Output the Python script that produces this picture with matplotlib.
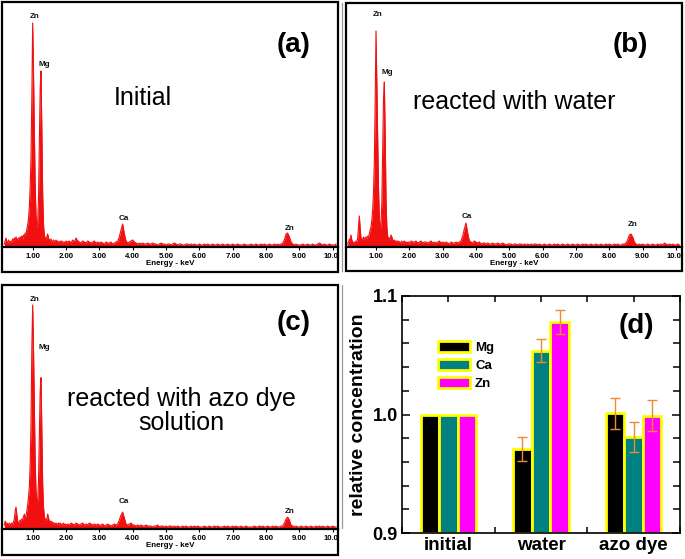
import numpy as np
import matplotlib
matplotlib.use('Agg')
import matplotlib.pyplot as plt
from matplotlib.patches import Rectangle
from matplotlib.lines import Line2D
from matplotlib.ticker import MultipleLocator, FormatStrFormatter
from matplotlib.transforms import Bbox, TransformedBbox

plt.rcParams['font.family'] = ['Liberation Sans', 'DejaVu Sans']

# ---------------- EDS spectra (counts) ----------------
e_low = np.round(np.arange(0.150, 2.0001, 0.025), 3)    # 75 channels
e_high = np.round(np.arange(2.05, 10.1001, 0.05), 3)    # 162 channels

counts_a_low = [3, 6, 9, 5, 4, 7, 5, 4, 6, 5, 8, 6, 9, 7, 10, 8, 7, 9, 8, 10,
                9, 11, 8, 12, 10, 14, 12, 18, 22, 28, 40, 60, 90, 150, 224, 175,
                115, 62, 32, 19, 24, 48, 105, 158, 176, 118, 52, 22, 12, 9, 8, 10,
                13, 9, 7, 6, 8, 6, 5, 7, 6, 5, 7, 5, 6, 5, 4, 6, 5, 6, 4, 5,
                5, 4, 6]
counts_a_high = [5, 6, 4, 7, 5, 9, 6, 5, 4, 6,
                 5, 4, 6, 5, 4, 5, 6, 4, 5, 4,
                 5, 4, 3, 5, 4, 4, 5, 3, 4, 5,
                 6, 10, 17, 23, 13, 6, 4, 5, 6, 7,
                 5, 4, 3, 4, 3, 4, 3, 3, 4, 3,
                 3, 4, 3, 3, 2, 3, 4, 3, 3, 2,
                 3, 3, 2, 3, 4, 3, 2, 3, 3, 2,
                 2, 3, 3, 2, 3, 2, 3, 2, 2, 3,
                 2, 2, 3, 2, 3, 2, 2, 3, 2, 2,
                 3, 2, 2, 3, 2, 2, 3, 2, 2, 3,
                 2, 2, 3, 2, 2, 2, 3, 2, 2, 2,
                 3, 2, 2, 3, 2, 2, 3, 2, 3, 2,
                 2, 3, 2, 2, 3, 2, 3, 2, 3, 4,
                 7, 13, 14, 10, 5, 3, 2, 3, 2, 2,
                 2, 3, 2, 2, 3, 2, 2, 3, 2, 2,
                 3, 4, 3, 2, 3, 2, 2, 3, 2, 2,
                 2, 3]

counts_b_low = [3, 5, 8, 6, 12, 7, 5, 4, 5, 4, 6, 5, 9, 20, 31, 18, 9, 7, 8, 10,
                8, 9, 10, 8, 11, 10, 13, 17, 20, 27, 37, 55, 85, 145, 216, 165,
                108, 58, 30, 17, 23, 45, 98, 148, 165, 112, 48, 20, 11, 8, 9, 8,
                12, 10, 7, 6, 7, 6, 5, 6, 5, 6, 5, 4, 5, 6, 4, 5, 6, 5, 4, 5,
                4, 5, 4]
counts_b_high = [6, 5, 5, 6, 4, 5, 6, 4, 5, 5,
                 4, 5, 6, 4, 5, 4, 5, 6, 4, 5,
                 4, 5, 4, 3, 5, 4, 4, 5, 4, 5,
                 6, 11, 18, 24, 14, 6, 5, 4, 6, 5,
                 4, 5, 3, 4, 4, 3, 4, 3, 3, 4,
                 3, 3, 4, 3, 3, 4, 3, 2, 3, 3,
                 3, 2, 3, 3, 2, 3, 3, 2, 3, 2,
                 3, 2, 3, 2, 3, 3, 2, 3, 2, 2,
                 3, 2, 2, 3, 2, 2, 3, 2, 3, 2,
                 2, 3, 2, 2, 3, 2, 2, 3, 2, 2,
                 3, 2, 2, 3, 2, 3, 2, 2, 3, 2,
                 2, 3, 2, 2, 3, 2, 2, 3, 2, 3,
                 2, 2, 3, 2, 3, 2, 2, 3, 3, 4,
                 7, 12, 13, 10, 5, 3, 2, 3, 2, 3,
                 2, 2, 3, 2, 2, 3, 2, 2, 3, 2,
                 3, 2, 4, 3, 2, 3, 2, 3, 2, 2,
                 3, 2]

counts_c_low = [4, 8, 5, 6, 5, 4, 6, 5, 4, 6, 5, 7, 10, 18, 22, 14, 8, 6, 7, 9,
                8, 10, 9, 12, 15, 10, 13, 18, 24, 32, 42, 65, 105, 182, 225, 180,
                125, 68, 38, 26, 28, 48, 95, 138, 152, 100, 45, 22, 13, 9, 10, 9,
                15, 11, 8, 7, 8, 6, 7, 5, 6, 5, 6, 5, 5, 6, 4, 6, 5, 4, 5, 6,
                4, 5, 4]
counts_c_high = [5, 4, 6, 5, 4, 6, 5, 4, 5, 6,
                 4, 5, 4, 6, 5, 4, 5, 4, 5, 4,
                 4, 5, 3, 4, 5, 4, 3, 4, 5, 4,
                 5, 9, 14, 17, 11, 5, 4, 5, 6, 4,
                 4, 3, 4, 3, 4, 3, 3, 4, 3, 3,
                 3, 2, 3, 3, 4, 2, 3, 3, 2, 3,
                 2, 3, 3, 2, 3, 2, 3, 2, 2, 3,
                 2, 3, 2, 2, 3, 2, 3, 2, 3, 2,
                 2, 2, 3, 2, 2, 3, 2, 2, 3, 2,
                 3, 2, 2, 2, 3, 2, 3, 2, 2, 3,
                 2, 3, 2, 2, 3, 2, 2, 3, 2, 2,
                 2, 2, 3, 2, 2, 3, 2, 3, 2, 2,
                 3, 2, 2, 3, 2, 3, 2, 2, 3, 3,
                 6, 10, 12, 9, 4, 3, 2, 3, 2, 2,
                 3, 2, 2, 3, 2, 2, 3, 2, 2, 3,
                 2, 3, 2, 3, 2, 2, 3, 2, 2, 3,
                 2, 2]

peak_labels = ['Zn', 'Mg', 'Ca', 'Zn']
peak_e_a = [1.05, 1.35, 3.74, 8.72]
peak_h_a = [230, 182, 29, 19]
peak_e_b = [1.04, 1.35, 3.72, 8.70]
peak_h_b = [232, 174, 30, 23]
peak_e_c = [1.05, 1.35, 3.74, 8.72]
peak_h_c = [230, 182, 28, 18]

energy_ticks = [1, 2, 3, 4, 5, 6, 7, 8, 9, 10]
energy_tick_labels = ['1.00', '2.00', '3.00', '4.00', '5.00', '6.00', '7.00',
                      '8.00', '9.00', '10.00']

# ---------------- bar chart (d) ----------------
groups = ['initial', 'water', 'azo dye']
elements = ['Mg', 'Ca', 'Zn']
mg_vals = [1.000, 0.971, 1.001]
ca_vals = [1.000, 1.054, 0.981]
zn_vals = [1.000, 1.078, 0.999]
mg_err = [0.0, 0.0103, 0.013]
ca_err = [0.0, 0.0099, 0.013]
zn_err = [0.0, 0.0099, 0.013]

W, H = 685, 559
fig = plt.figure(figsize=(W / 100, H / 100), dpi=100)
RED = '#F01010'


def frac_rect(x0, y0, x1, y1):
    return [x0 / W, 1 - y1 / H, (x1 - x0) / W, (y1 - y0) / H]


def spectrum(rect, xlim, low, high, pe, ph, clip_right):
    ax = fig.add_axes(rect)
    e = np.concatenate([e_low, e_high])
    c = np.concatenate([np.array(low, float), np.array(high, float)])
    ax.fill_between(e, 0, c, color=RED, lw=0)
    ax.plot(e, c, color=RED, lw=0.8)
    ax.set_xlim(*xlim)
    ax.set_ylim(0, 244)
    for s in ['top', 'left', 'right']:
        ax.spines[s].set_visible(False)
    ax.spines['bottom'].set_linewidth(1.6)
    ax.set_yticks([])
    ax.set_xticks(energy_ticks)
    labs = ax.set_xticklabels(energy_tick_labels, fontsize=5.6,
                              fontweight='bold')
    ax.tick_params(axis='x', direction='out', length=2.5, width=0.8, pad=1.5)
    ax.set_xlabel('Energy - keV', fontsize=5.8, fontweight='bold', labelpad=0)
    ax.patch.set_alpha(0)
    clipbox = TransformedBbox(Bbox.from_extents(0, 0, clip_right / W, 1),
                              fig.transFigure)
    labs[-1].set_clip_box(clipbox)
    labs[-1].set_clip_on(True)
    for lab, x, y in zip(peak_labels, pe, ph):
        ax.text(x, y, lab, fontsize=5.8, fontweight='bold', ha='center',
                va='center', color='#111111')
    return ax


spectrum(frac_rect(2, 3, 338, 247), (0.08, 10.16), counts_a_low, counts_a_high,
         peak_e_a, peak_h_a, 337)
spectrum(frac_rect(346, 3, 682, 247), (0.10, 10.18), counts_b_low, counts_b_high,
         peak_e_b, peak_h_b, 681)
spectrum(frac_rect(2, 286, 338, 529), (0.08, 10.16), counts_c_low, counts_c_high,
         peak_e_c, peak_h_c, 337)

# panel frames
for (x0, y0, x1, y1) in [(2, 2, 338, 272), (346, 3, 682, 271), (2, 285, 338, 555)]:
    r = frac_rect(x0, y0, x1, y1)
    fig.add_artist(Rectangle((r[0], r[1]), r[2], r[3], fill=False, lw=1.6,
                             ec='black', transform=fig.transFigure, zorder=10))
fig.add_artist(Line2D([341.5 / W] * 2, [1 - 3 / H, 1 - 271 / H], color='#9a9a9a',
                      lw=0.9, transform=fig.transFigure))
fig.add_artist(Line2D([341.5 / W] * 2, [1 - 285 / H, 1 - 528 / H], color='#9a9a9a',
                      lw=0.9, transform=fig.transFigure))


def ftext(x, y, s, **kw):
    fig.text(x / W, 1 - y / H, s, ha='center', va='center', **kw)


ftext(293.5, 45, '(a)', fontsize=20, fontweight='bold')
ftext(630.5, 45.5, '(b)', fontsize=20, fontweight='bold')
ftext(293.5, 323.5, '(c)', fontsize=20, fontweight='bold')
ftext(142.5, 98, 'Initial', fontsize=18)
ftext(514.5, 102, 'reacted with water', fontsize=18)
ftext(181.5, 411, 'reacted with azo dye\nsolution', fontsize=18,
      linespacing=1.0)

# ---------------- panel (d) ----------------
axd = fig.add_axes(frac_rect(402, 296, 680, 533))
x = np.arange(len(groups))
width = 0.2
cols = ['black', '#008080', '#FF00FF']
vals = [mg_vals, ca_vals, zn_vals]
errs = [mg_err, ca_err, zn_err]
handles = []
for i, (v, er, col) in enumerate(zip(vals, errs, cols)):
    xs = x + (i - 1) * width
    b = axd.bar(xs, np.array(v) - 0.9, width, bottom=0.9, color=col,
                edgecolor='#FFFF00', linewidth=2.0, zorder=2)
    handles.append(b)
    er = np.array(er)
    m = er > 0
    axd.errorbar(xs[m], np.array(v)[m], yerr=er[m], fmt='none',
                 ecolor='#F08A30', elinewidth=1.0, capsize=3.5, capthick=1.0,
                 zorder=3)

axd.set_xlim(-0.5, 2.5)
axd.set_ylim(0.9, 1.1)
axd.set_xticks(x)
axd.set_xticklabels(groups, fontsize=13.5, fontweight='bold')
axd.xaxis.set_minor_locator(MultipleLocator(0.5))
axd.yaxis.set_major_locator(MultipleLocator(0.1))
axd.yaxis.set_minor_locator(MultipleLocator(0.02))
axd.yaxis.set_major_formatter(FormatStrFormatter('%.1f'))
for lab in axd.get_yticklabels():
    lab.set_fontweight('bold')
    lab.set_fontsize(13)
axd.tick_params(which='both', direction='in', top=True, right=True, width=1.1)
axd.tick_params(which='major', length=6)
axd.tick_params(which='minor', length=5)
axd.tick_params(axis='x', which='both', length=4)
axd.tick_params(axis='x', pad=3)
axd.tick_params(axis='y', pad=3)
for s in axd.spines.values():
    s.set_linewidth(1.2)
axd.set_ylabel('relative concentration', fontsize=14, fontweight='bold',
               labelpad=4)
axd.text(0.844, 0.874, '(d)', transform=axd.transAxes, fontsize=20,
         fontweight='bold', ha='center', va='center')
axd.legend(handles, elements, loc='upper left', bbox_to_anchor=(0.13, 0.812),
           frameon=False, borderpad=0, borderaxespad=0, handlelength=2.4,
           handleheight=0.9, labelspacing=0.38, handletextpad=0.4,
           prop={'weight': 'bold', 'size': 9.5})

fig.savefig('out.png', dpi=100)
